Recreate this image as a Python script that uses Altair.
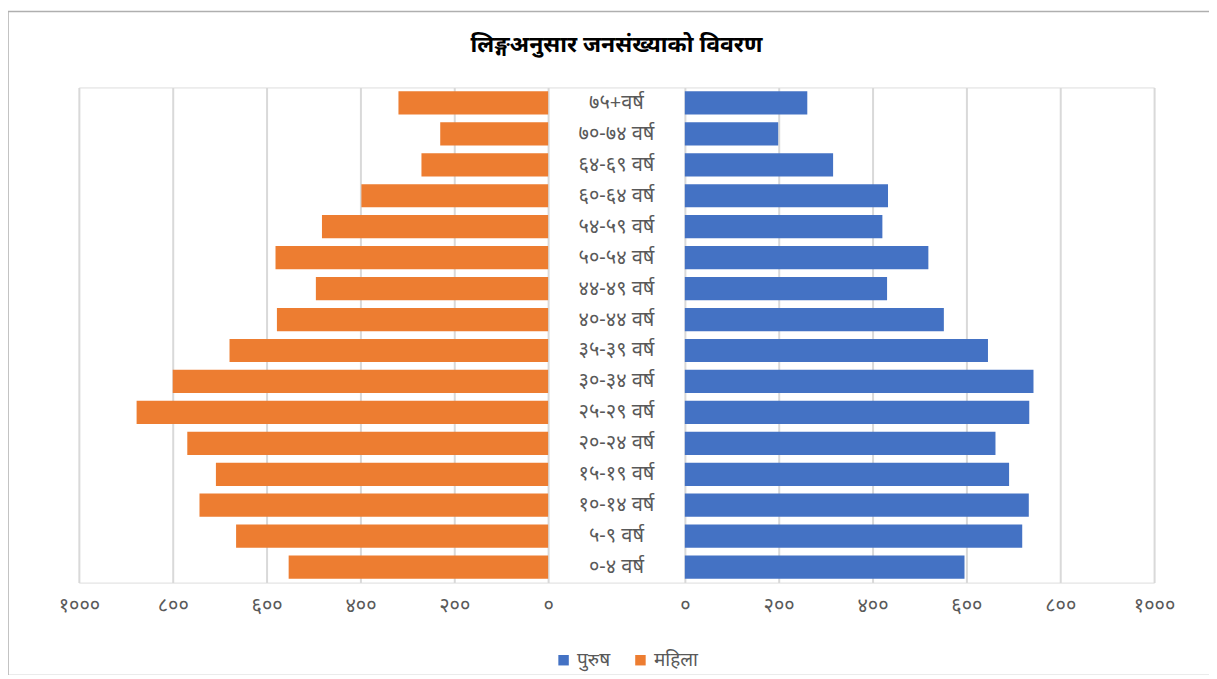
import altair as alt
import pandas as pd

# ---- data ----
age_groups = ["७५+वर्ष", "७०-७४ वर्ष", "६४-६९ वर्ष", "६०-६४ वर्ष", "५४-५९ वर्ष",
              "५०-५४ वर्ष", "४४-४९ वर्ष", "४०-४४ वर्ष", "३५-३९ वर्ष", "३०-३४ वर्ष",
              "२५-२९ वर्ष", "२०-२४ वर्ष", "१५-१९ वर्ष", "१०-१४ वर्ष", "५-९ वर्ष", "०-४ वर्ष"]
male = [261, 199, 316, 433, 421, 519, 431, 552, 646, 743, 734, 662, 691, 733, 719, 596]
female = [319, 230, 270, 398, 482, 581, 495, 578, 679, 800, 877, 769, 708, 743, 665, 553]
series_names = ["पुरुष", "महिला"]
series_colors = ["#4472C4", "#ED7D31"]
tick_values = [0, 200, 400, 600, 800, 1000]
tick_labels = ["०", "२००", "४००", "६००", "८००", "१०००"]
title_text = "लिङ्गअनुसार जनसंख्याको विवरण"

# ---- layout constants ----
G = 145.6           # half gap (in value units) between the two halves
W, H = 1077, 496
FONT = "Noto Sans"

rows = []
for a, m, f in zip(age_groups, male, female):
    rows.append({"age": a, "gender": series_names[0], "value": m, "side": 1})
    rows.append({"age": a, "gender": series_names[1], "value": f, "side": -1})
df = pd.DataFrame(rows)

axis_vals = [-(v + G) for v in tick_values] + [v + G for v in tick_values]
label_expr = "[" + ",".join("'" + t + "'" for t in tick_labels) + "][round((abs(datum.value)-%s)/200)]" % G

xscale = alt.Scale(domain=[-1000 - G, 1000 + G], nice=False, zero=False)
yscale = alt.Scale(domain=age_groups, paddingInner=0.25, paddingOuter=0.125)

base = alt.Chart(df)

bars = base.transform_calculate(
    x0=f"datum.side*{G}", x1=f"datum.side*(datum.value+{G})"
).mark_bar(stroke=None).encode(
    x=alt.X("x0:Q", scale=xscale,
            axis=alt.Axis(values=axis_vals, labelExpr=label_expr, title=None,
                          grid=True, gridColor="#D9D9D9", gridWidth=2,
                          domain=False, ticks=False, labelPadding=13,
                          labelFlush=False, labelOverlap=False,
                          labelFontSize=20, labelColor="#595959", labelFont=FONT)),
    x2="x1:Q",
    y=alt.Y("age:N", scale=yscale, axis=None, sort=age_groups),
    color=alt.Color("gender:N",
                    scale=alt.Scale(domain=series_names, range=series_colors),
                    legend=alt.Legend(title=None, orient="none", direction="horizontal",
                                      legendX=476, legendY=564, symbolType="square",
                                      symbolSize=110, symbolStrokeWidth=0,
                                      labelFontSize=19, labelColor="#595959",
                                      labelFont=FONT, columnPadding=20, labelOffset=4)),
)

labels = alt.Chart(pd.DataFrame({"age": age_groups})).mark_text(
    fontSize=20, color="#595959", font=FONT, align="center", baseline="middle"
).encode(
    x=alt.datum(0, scale=xscale),
    y=alt.Y("age:N", scale=yscale, sort=age_groups),
    text="age:N",
)

border = alt.Chart(pd.DataFrame({"a": [0]})).mark_rect(
    filled=False, stroke="#AFAFAF", strokeWidth=1.5
).encode(
    x=alt.value(-71), x2=alt.value(1133), y=alt.value(-76), y2=alt.value(589)
)

chart = alt.layer(border, bars, labels).properties(
    width=W, height=H,
    title=alt.TitleParams(title_text, font=FONT, fontSize=23, fontWeight="bold",
                          color="#000000", anchor="middle", offset=-46),
    autosize=alt.AutoSizeParams(type="none"),
    padding={"left": 71, "top": 79, "right": 55, "bottom": 92},
).configure_view(stroke=None).configure(background="white")

chart.save("out.html", embed_options={"renderer": "svg", "actions": False})
